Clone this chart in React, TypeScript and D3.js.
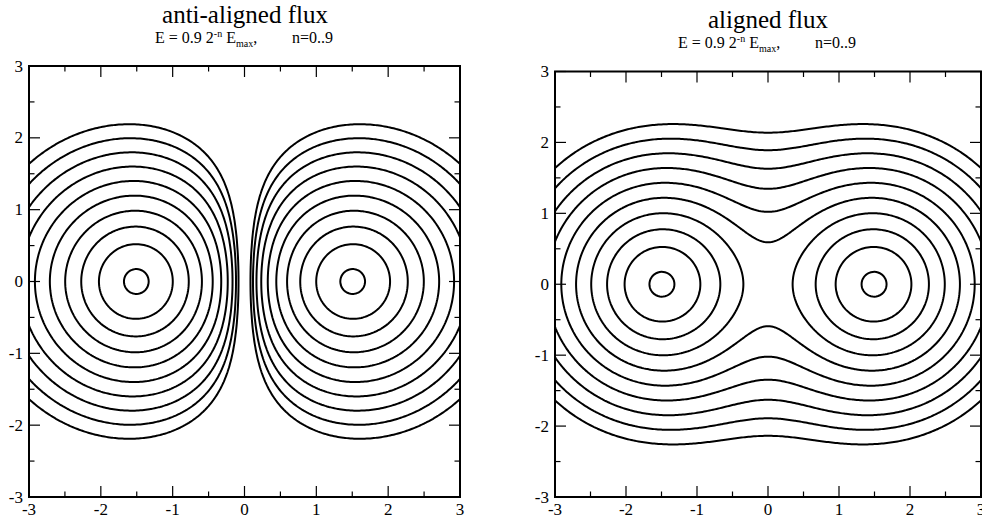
import React, { useMemo } from "react";
import * as d3 from "d3";

// flux tube sources (x, y) and their orientation in each panel
const sourceX = [-1.5, 1.5];
const sourceY = [0, 0];
const antiSigns = [1, -1];
const alignedSigns = [1, 1];

// tube profile
const coreRadius = 0.5;
const decayLength = 0.56;

// contour levels: E = 0.9 * 2^-n * Emax
const levelN = [0, 1, 2, 3, 4, 5, 6, 7, 8, 9];
const levelFactor = 0.9;

const majorTicks = [-3, -2, -1, 0, 1, 2, 3];
const minorTicks = [-2.5, -1.5, -0.5, 0.5, 1.5, 2.5];
const tickLabels = ["-3", "-2", "-1", "0", "1", "2", "3"];

const domain: [number, number] = [-3, 3];
const gridMin = -3.3;
const gridStep = 0.025;
const gridN = 265;

const panels = [
  { key: "anti", title: "anti-aligned flux", signs: antiSigns, left: 29, top: 66, right: 460, bottom: 497, cx: 245, titleY: 23, subY: 43 },
  { key: "aligned", title: "aligned flux", signs: alignedSigns, left: 555, top: 71.5, right: 981, bottom: 497, cx: 768, titleY: 28, subY: 48 },
];

const font = "'Liberation Serif', 'Times New Roman', serif";

const profile = (r: number) =>
  Math.exp(-(Math.sqrt(r * r + coreRadius * coreRadius) - coreRadius) / decayLength);

function energyGrid(signs: number[]) {
  const values = new Float64Array(gridN * gridN);
  for (let j = 0; j < gridN; j++) {
    const y = gridMin + j * gridStep;
    for (let i = 0; i < gridN; i++) {
      const x = gridMin + i * gridStep;
      let b = 0;
      sourceX.forEach((sx, k) => {
        b += signs[k] * profile(Math.hypot(x - sx, y - sourceY[k]));
      });
      values[j * gridN + i] = b * b;
    }
  }
  return values;
}

const Panel = ({ p }) => {
  const x = d3.scaleLinear().domain(domain).range([p.left, p.right]);
  const y = d3.scaleLinear().domain(domain).range([p.bottom, p.top]);

  const paths = useMemo(() => {
    const values = energyGrid(p.signs);
    const eMax = d3.max(values) as number;
    const thresholds = levelN.map((n) => levelFactor * Math.pow(2, -n) * eMax).sort((a, b) => a - b);
    const contours = d3.contours().size([gridN, gridN]).smooth(true).thresholds(thresholds)(Array.from(values));
    const proj = d3.geoTransform({
      point: function (u, v) {
        this.stream.point(x(gridMin + (u - 0.5) * gridStep), y(gridMin + (v - 0.5) * gridStep));
      },
    });
    const path = d3.geoPath(proj);
    return contours.map((c) => path(c as any));
  }, [p.key]);

  const clipId = `clip-${p.key}`;
  const major = 11;
  const minor = 5.5;

  return (
    <g>
      <defs>
        <clipPath id={clipId}>
          <rect x={p.left} y={p.top} width={p.right - p.left} height={p.bottom - p.top} />
        </clipPath>
      </defs>

      <text x={p.cx} y={p.titleY} textAnchor="middle" fontFamily={font} fontSize={25}>
        {p.title}
      </text>
      <text x={p.cx - 90} y={p.subY} fontFamily={font} fontSize={16}>
        E = 0.9 2<tspan dy={-6} fontSize={10}>-n</tspan>
        <tspan dy={6}> E</tspan>
        <tspan dy={4} fontSize={10}>max</tspan>
        <tspan dy={-4}>,</tspan>
      </text>
      <text x={p.cx + 47} y={p.subY} fontFamily={font} fontSize={16}>
        n=0..9
      </text>

      <g clipPath={`url(#${clipId})`}>
        {paths.map((d, i) => (
          <path key={i} d={d || ""} fill="none" stroke="#000" strokeWidth={2} strokeLinejoin="round" />
        ))}
      </g>

      {/* ticks, mirrored on all sides, pointing inward */}
      <g stroke="#000" strokeWidth={1.2}>
        {majorTicks.map((t) => (
          <g key={`M${t}`}>
            <line x1={x(t)} x2={x(t)} y1={p.bottom} y2={p.bottom - major} />
            <line x1={x(t)} x2={x(t)} y1={p.top} y2={p.top + major} />
            <line x1={p.left} x2={p.left + major} y1={y(t)} y2={y(t)} />
            <line x1={p.right} x2={p.right - major} y1={y(t)} y2={y(t)} />
          </g>
        ))}
        {minorTicks.map((t) => (
          <g key={`m${t}`}>
            <line x1={x(t)} x2={x(t)} y1={p.bottom} y2={p.bottom - minor} />
            <line x1={x(t)} x2={x(t)} y1={p.top} y2={p.top + minor} />
            <line x1={p.left} x2={p.left + minor} y1={y(t)} y2={y(t)} />
            <line x1={p.right} x2={p.right - minor} y1={y(t)} y2={y(t)} />
          </g>
        ))}
      </g>

      <rect x={p.left} y={p.top} width={p.right - p.left} height={p.bottom - p.top} fill="none" stroke="#000" strokeWidth={2} />

      <g fontFamily={font} fontSize={17}>
        {majorTicks.map((t, i) => (
          <text key={`x${t}`} x={x(t)} y={p.bottom + 18} textAnchor="middle">
            {tickLabels[i]}
          </text>
        ))}
        {majorTicks.map((t, i) => (
          <text key={`y${t}`} x={p.left - 6} y={y(t)} textAnchor="end" dominantBaseline="central">
            {tickLabels[i]}
          </text>
        ))}
      </g>
    </g>
  );
};

export default function App() {
  return (
    <svg width={982} height={519} style={{ position: "absolute", left: 0, top: 0, background: "#fff" }}>
      {panels.map((p) => (
        <Panel key={p.key} p={p} />
      ))}
    </svg>
  );
}
